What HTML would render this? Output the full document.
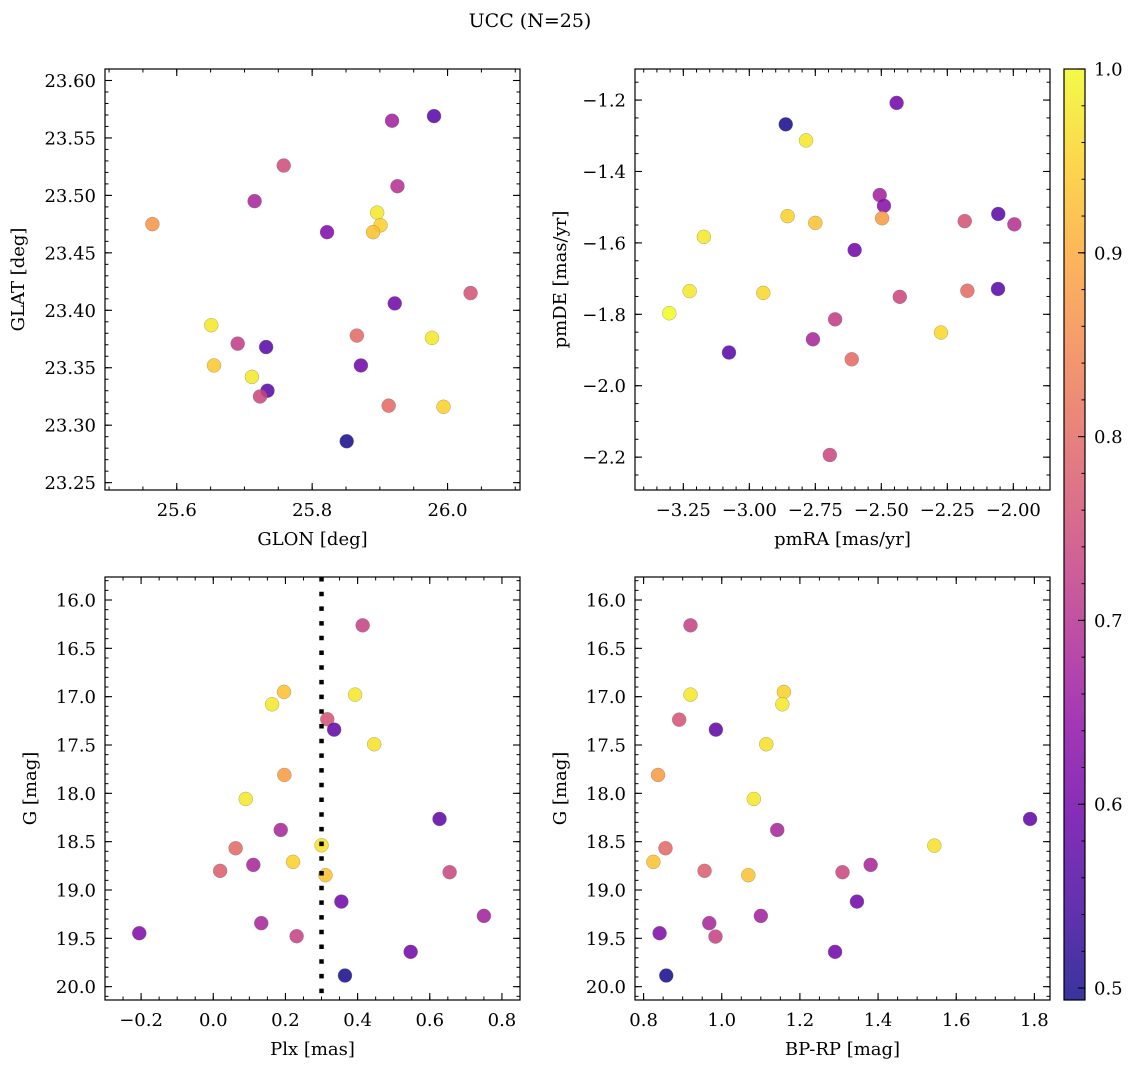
<!DOCTYPE html>
<html><head><meta charset="utf-8">
<style>
html,body{margin:0;padding:0;background:#fff;}
svg text{font-family:"DejaVu Serif","Liberation Serif",serif;fill:#000;}
</style></head>
<body>
<svg id="fig" width="1136" height="1067" viewBox="0 0 1136 1067" xmlns="http://www.w3.org/2000/svg">
<defs>
<linearGradient id="cbgrad" x1="0" y1="1" x2="0" y2="0">
<stop offset="0" stop-color="#0d0887"/><stop offset="0.1" stop-color="#41049d"/><stop offset="0.2" stop-color="#6a00a8"/><stop offset="0.3" stop-color="#8f0da4"/><stop offset="0.4" stop-color="#b12a90"/><stop offset="0.5" stop-color="#cc4778"/><stop offset="0.6" stop-color="#e16462"/><stop offset="0.7" stop-color="#f2844b"/><stop offset="0.8" stop-color="#fca636"/><stop offset="0.9" stop-color="#fcce25"/><stop offset="1" stop-color="#f0f921"/>
</linearGradient>
</defs>
<text x="530" y="27" font-size="19" text-anchor="middle">UCC (N=25)</text>
</svg>
<script>
// Panel 1: GLON / GLAT
const glon = [25.564,25.758,25.715,25.822,25.918,25.980,25.926,25.896,25.901,25.890,26.034,25.922,25.651,25.690,25.732,25.866,25.977,25.655,25.711,25.872,25.734,25.723,25.913,25.994,25.851];
const glat = [23.475,23.526,23.495,23.468,23.565,23.569,23.508,23.485,23.474,23.468,23.415,23.406,23.387,23.371,23.368,23.378,23.376,23.352,23.342,23.352,23.330,23.325,23.317,23.316,23.286];
const prob1 = [0.87,0.75,0.68,0.62,0.67,0.57,0.70,0.98,0.95,0.93,0.76,0.60,0.98,0.72,0.57,0.80,0.98,0.94,0.98,0.60,0.57,0.74,0.80,0.95,0.50];
// Panel 2: pmRA / pmDE
const pmra = [-2.442,-2.862,-2.785,-2.506,-2.490,-2.855,-2.750,-2.497,-2.184,-2.057,-1.996,-3.172,-2.601,-3.226,-2.947,-2.430,-2.174,-2.058,-3.303,-2.274,-2.675,-3.077,-2.759,-2.612,-2.695];
const pmde = [-1.208,-1.268,-1.313,-1.466,-1.496,-1.525,-1.544,-1.531,-1.539,-1.519,-1.548,-1.583,-1.620,-1.735,-1.740,-1.751,-1.734,-1.729,-1.797,-1.851,-1.814,-1.907,-1.870,-1.926,-2.194];
const prob2 = [0.60,0.50,0.98,0.67,0.63,0.95,0.93,0.88,0.76,0.57,0.70,0.98,0.60,0.98,0.96,0.74,0.80,0.57,1.00,0.96,0.72,0.57,0.68,0.80,0.74];
// Panel 3: Plx / G
const plx = [0.414,0.196,0.163,0.393,0.316,0.335,0.446,0.197,0.090,0.627,0.187,0.062,0.300,0.221,0.111,0.019,0.311,0.655,0.355,0.750,0.133,0.231,-0.205,0.547,0.365];
const gmag3 = [16.262,16.951,17.079,16.979,17.234,17.341,17.492,17.810,18.058,18.265,18.379,18.568,18.537,18.709,18.740,18.802,18.847,18.816,19.120,19.268,19.343,19.478,19.447,19.640,19.885];
const prob3 = [0.73,0.93,0.98,0.98,0.76,0.58,0.97,0.88,0.98,0.58,0.68,0.80,0.97,0.95,0.68,0.78,0.93,0.74,0.60,0.67,0.68,0.73,0.62,0.60,0.50];
const plxCut = 0.3;
// Panel 4: BP-RP / G
const bprp = [0.920,0.920,1.159,1.155,0.891,0.985,1.114,0.837,1.082,1.789,1.142,0.856,1.544,0.825,0.956,1.068,1.309,1.381,1.346,1.100,0.968,0.984,0.841,1.290,0.858];
const gmag4 = [16.262,16.979,16.951,17.079,17.238,17.341,17.492,17.810,18.058,18.265,18.379,18.568,18.541,18.709,18.802,18.847,18.816,18.740,19.120,19.268,19.343,19.482,19.447,19.640,19.885];
const prob4 = [0.73,0.98,0.95,0.98,0.76,0.58,0.97,0.88,0.98,0.58,0.68,0.80,0.97,0.93,0.78,0.93,0.74,0.68,0.60,0.67,0.68,0.73,0.62,0.60,0.50];
// tick labels
const p1XTicks = [25.6,25.8,26.0];
const p1YTicks = [23.25,23.30,23.35,23.40,23.45,23.50,23.55,23.60];
const p2XTicks = [-3.25,-3.00,-2.75,-2.50,-2.25,-2.00];
const p2YTicks = [-2.2,-2.0,-1.8,-1.6,-1.4,-1.2];
const p3XTicks = [-0.2,0.0,0.2,0.4,0.6,0.8];
const gTicks = [16.0,16.5,17.0,17.5,18.0,18.5,19.0,19.5,20.0];
const p4XTicks = [0.8,1.0,1.2,1.4,1.6,1.8];
const cbTicks = [0.5,0.6,0.7,0.8,0.9,1.0];

const NS='http://www.w3.org/2000/svg';
const svg=document.getElementById('fig');
const CMIN=0.4935, CMAX=1.0;
const FS=18;
const stops=[[13,8,135],[65,4,157],[106,0,168],[143,13,164],[177,42,144],[204,71,120],[225,100,98],[242,132,75],[252,166,54],[252,206,37],[240,249,33]];
function cmap(v){let t=(v-CMIN)/(CMAX-CMIN);t=Math.max(0,Math.min(1,t));const f=t*10,i=Math.min(9,Math.floor(f)),r=f-i;const a=stops[i],b=stops[i+1];return 'rgb('+a.map((c,k)=>Math.round(c+(b[k]-c)*r)).join(',')+')';}
function mk(tag,attrs,parent){const e=document.createElementNS(NS,tag);for(const k in attrs)e.setAttribute(k,attrs[k]);(parent||svg).appendChild(e);return e;}
function fmt(v,d){const s=Math.abs(v).toFixed(d);return (v<0?'\u2212':'')+s;}

function panel(o){
  const g=mk('g',{});
  
  
  const sx=v=>o.L+(v-o.x0)/(o.x1-o.x0)*(o.R-o.L);
  const sy=v=>o.B-(v-o.y0)/(o.y1-o.y0)*(o.B-o.T);
  for(let i=0;i<o.xs.length;i++){
    const c=mk('circle',{cx:sx(o.xs[i]),cy:sy(o.ys[i]),r:7,fill:cmap(o.cs[i]),'fill-opacity':0.85,stroke:'#777','stroke-width':0.5,'stroke-opacity':0.6},g);
    
    
  }
  if(o.extra)o.extra(g,sx,sy);
  const f=mk('rect',{x:o.L,y:o.T,width:o.R-o.L,height:o.B-o.T,fill:'none',stroke:'#000','stroke-width':1.2},g);
  
  
  const eps=1e-9;
  function ticksX(step,len){for(let v=Math.ceil((o.x0)/step-eps)*step;v<=o.x1+eps;v+=step){const x=sx(v);mk('line',{x1:x,x2:x,y1:o.B,y2:o.B-len,stroke:'#000','stroke-width':1},g);mk('line',{x1:x,x2:x,y1:o.T,y2:o.T+len,stroke:'#000','stroke-width':1},g);}}
  function ticksY(step,len){const lo=Math.min(o.y0,o.y1),hi=Math.max(o.y0,o.y1);for(let v=Math.ceil(lo/step-eps)*step;v<=hi+eps;v+=step){const y=sy(v);mk('line',{x1:o.L,x2:o.L+len,y1:y,y2:y,stroke:'#000','stroke-width':1},g);mk('line',{x1:o.R,x2:o.R-len,y1:y,y2:y,stroke:'#000','stroke-width':1},g);}}
  ticksX(o.xminor,3.5);ticksY(o.yminor,3.5);
  o.xt.forEach(v=>{const x=sx(v);mk('line',{x1:x,x2:x,y1:o.B,y2:o.B-7,stroke:'#000','stroke-width':1.1},g);mk('line',{x1:x,x2:x,y1:o.T,y2:o.T+7,stroke:'#000','stroke-width':1.1},g);
    const t=mk('text',{x:x,y:o.B+26,'font-size':FS,'text-anchor':'middle'},g);t.textContent=fmt(v,o.xd);
    
    });
  o.yt.forEach(v=>{const y=sy(v);mk('line',{x1:o.L,x2:o.L+7,y1:y,y2:y,stroke:'#000','stroke-width':1.1},g);mk('line',{x1:o.R,x2:o.R-7,y1:y,y2:y,stroke:'#000','stroke-width':1.1},g);
    const t=mk('text',{x:o.L-9,y:y+6.5,'font-size':FS,'text-anchor':'end'},g);t.textContent=fmt(v,o.yd);
    
    });
  const xl=mk('text',{x:(o.L+o.R)/2,y:o.B+55,'font-size':FS,'text-anchor':'middle'},g);xl.textContent=o.xlabel;
  
  
  const yx=o.ylx, yy=(o.T+o.B)/2;
  const yl=mk('text',{x:yx,y:yy,'font-size':FS,'text-anchor':'middle',transform:'rotate(-90 '+yx+' '+yy+')'},g);yl.textContent=o.ylabel;
  
  
}

panel({name:'glon-glat-panel',L:105,R:520,T:69,B:490,x0:25.494,x1:26.107,y0:23.2436,y1:23.610,xs:glon,ys:glat,cs:prob1,xt:p1XTicks,yt:p1YTicks,xd:1,yd:2,xminor:0.05,yminor:0.01,xlabel:'GLON [deg]',ylabel:'GLAT [deg]',ylx:24});
panel({name:'pm-panel',L:635,R:1050,T:69,B:490,x0:-3.433,x1:-1.861,y0:-2.292,y1:-1.113,xs:pmra,ys:pmde,cs:prob2,xt:p2XTicks,yt:p2YTicks,xd:2,yd:1,xminor:0.05,yminor:0.05,xlabel:'pmRA [mas/yr]',ylabel:'pmDE [mas/yr]',ylx:566});
panel({name:'plx-g-panel',L:105,R:520,T:577,B:1000,x0:-0.300,x1:0.850,y0:20.138,y1:15.762,xs:plx,ys:gmag3,cs:prob3,xt:p3XTicks,yt:gTicks,xd:1,yd:1,xminor:0.05,yminor:0.1,xlabel:'Plx [mas]',ylabel:'G [mag]',ylx:36,
  extra:(g,sx,sy)=>{const l=mk('line',{x1:sx(plxCut),x2:sx(plxCut),y1:577,y2:1000,stroke:'#000','stroke-width':4.5,'stroke-dasharray':'4.5 10.2'},g);
    
    }});
panel({name:'cmd-panel',L:635,R:1050,T:577,B:1000,x0:0.778,x1:1.840,y0:20.138,y1:15.762,xs:bprp,ys:gmag4,cs:prob4,xt:p4XTicks,yt:gTicks,xd:1,yd:1,xminor:0.05,yminor:0.1,xlabel:'BP-RP [mag]',ylabel:'G [mag]',ylx:566});

(function(){
  const L=1064,R=1085,T=69,B=1000;
  const g=mk('g',{});
  
  
  const sy=v=>B-(v-CMIN)/(CMAX-CMIN)*(B-T);
  mk('rect',{x:L,y:T,width:R-L,height:B-T,fill:'url(#cbgrad)','fill-opacity':0.82},g);
  mk('rect',{x:L,y:T,width:R-L,height:B-T,fill:'none',stroke:'#000','stroke-width':1.2},g);
  for(let v=0.50;v<=1.0001;v+=0.02){const y=sy(v);mk('line',{x1:R,x2:R-3.5,y1:y,y2:y,stroke:'#000','stroke-width':1},g);}
  cbTicks.forEach(v=>{const y=sy(v);mk('line',{x1:R,x2:R-7,y1:y,y2:y,stroke:'#000','stroke-width':1.1},g);
    const t=mk('text',{x:R+9,y:y+6.5,'font-size':FS},g);t.textContent=v.toFixed(1);
    
    });
})();
</script>
</body></html>
